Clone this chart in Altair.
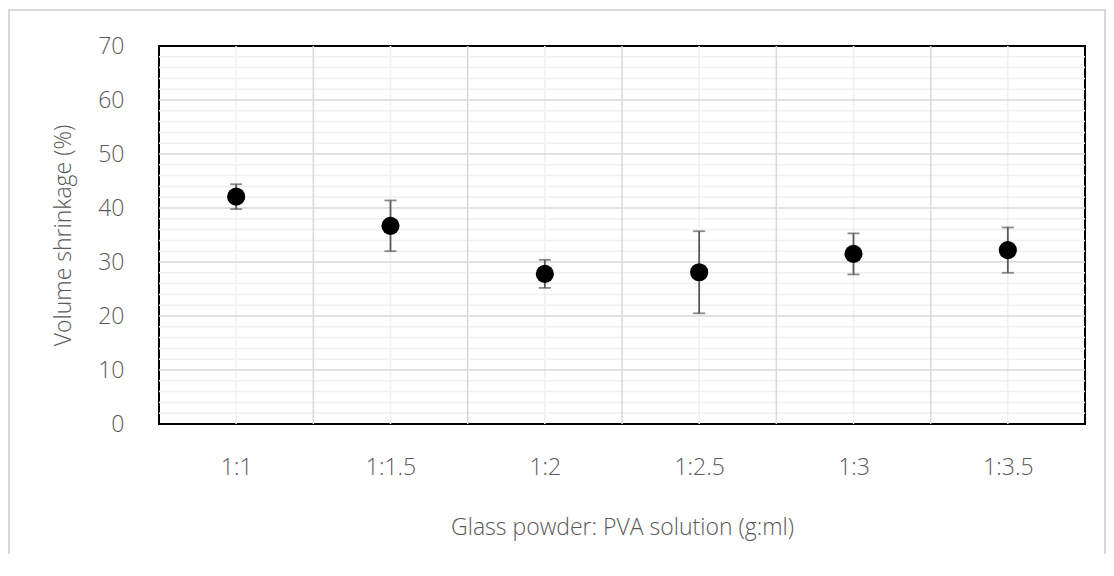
import altair as alt
import pandas as pd

categories = ["1:1", "1:1.5", "1:2", "1:2.5", "1:3", "1:3.5"]
means = [42.1, 36.7, 27.8, 28.1, 31.5, 32.2]
errors = [2.3, 4.7, 2.6, 7.6, 3.8, 4.2]

y_major = [10, 20, 30, 40, 50, 60]
y_minor = [v for v in range(2, 70, 2) if v % 10 != 0]
x_major = [i + 0.5 for i in range(len(categories) - 1)]
x_minor = list(range(len(categories)))

FONT = "Open Sans"
TXT = "#595959"
FS = 23

df = pd.DataFrame({
    "idx": list(range(len(categories))),
    "cat": categories,
    "mean": means,
    "err": errors,
})
df["lo"] = df["mean"] - df["err"]
df["hi"] = df["mean"] + df["err"]

label_expr = "[" + ",".join(f"'{c}'" for c in categories) + "][datum.value]"

xscale = alt.Scale(domain=[-0.5, len(categories) - 0.5], nice=False, zero=False)
yscale = alt.Scale(domain=[0, 70], nice=False)

xaxis = alt.Axis(values=x_minor, labelExpr=label_expr, grid=False, ticks=False, domain=False,
                 labelPadding=32, labelFontSize=FS, labelColor=TXT, labelFont=FONT,
                 labelFontWeight=300, title="Glass powder: PVA solution (g:ml)",
                 titleFontSize=FS, titleColor=TXT, titleFont=FONT, titleFontWeight=300,
                 titlePadding=37)
yaxis = alt.Axis(values=[0, 10, 20, 30, 40, 50, 60, 70], grid=False, ticks=False, domain=False,
                 labelPadding=35, labelFontSize=FS, labelColor=TXT, labelFont=FONT,
                 labelFontWeight=300, title="Volume shrinkage (%)",
                 titleFontSize=FS, titleColor=TXT, titleFont=FONT, titleFontWeight=300,
                 titlePadding=22)

base = alt.Chart(df)

frame = alt.Chart(pd.DataFrame({"a": [0]})).mark_rect(
    fill="white", fillOpacity=0, stroke="#d9d9d9", strokeWidth=2
).encode(x=alt.value(-150), x2=alt.value(946), y=alt.value(-36), y2=alt.value(700))

hminor = alt.Chart(pd.DataFrame({"v": y_minor})).mark_rule(color="#f0f0f0", strokeWidth=1.5).encode(
    y=alt.Y("v:Q", scale=yscale, axis=yaxis))
vminor = alt.Chart(pd.DataFrame({"v": x_minor})).mark_rule(color="#f0f0f0", strokeWidth=1.5).encode(
    x=alt.X("v:Q", scale=xscale, axis=xaxis))
hmajor = alt.Chart(pd.DataFrame({"v": y_major})).mark_rule(color="#d9d9d9", strokeWidth=1.5).encode(
    y=alt.Y("v:Q", scale=yscale))
vmajor = alt.Chart(pd.DataFrame({"v": x_major})).mark_rule(color="#d9d9d9", strokeWidth=1.5).encode(
    x=alt.X("v:Q", scale=xscale))

ebar = base.mark_rule(color="#595959", strokeWidth=1.8).encode(
    x=alt.X("idx:Q", scale=xscale), y=alt.Y("lo:Q", scale=yscale), y2="hi:Q")
cap_hi = base.mark_tick(color="#595959", orient="horizontal", size=12, thickness=1.8).encode(
    x=alt.X("idx:Q", scale=xscale), y=alt.Y("hi:Q", scale=yscale))
cap_lo = base.mark_tick(color="#595959", orient="horizontal", size=12, thickness=1.8).encode(
    x=alt.X("idx:Q", scale=xscale), y=alt.Y("lo:Q", scale=yscale))
pts = base.mark_circle(color="black", opacity=1, size=330).encode(
    x=alt.X("idx:Q", scale=xscale), y=alt.Y("mean:Q", scale=yscale),
    tooltip=["cat", "mean", "err"])

chart = alt.layer(frame, hminor, vminor, hmajor, vmajor, ebar, cap_hi, cap_lo, pts).properties(
    width=926, height=378,
    autosize=alt.AutoSizeParams(type="none"),
    padding={"left": 151, "top": 38, "right": 21, "bottom": 130},
    background="white",
).configure_view(stroke="black", strokeWidth=2)

chart.save("out.html", embed_options={"renderer": "svg", "actions": False})
